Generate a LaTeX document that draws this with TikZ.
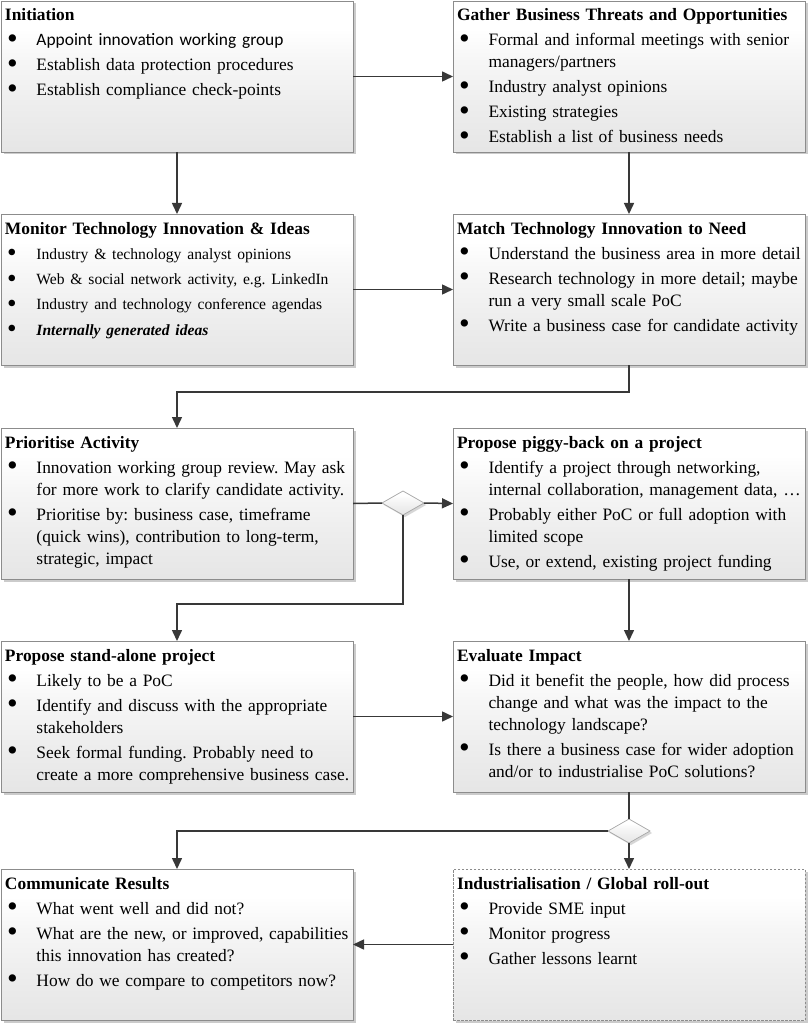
\documentclass[tikz,border=0pt]{standalone}
\usepackage{fontspec}
\usepackage{graphicx}
\setmainfont{Liberation Serif}
\newfontfamily\calib{Carlito}
\usetikzlibrary{arrows.meta,shapes.geometric,shadows,calc}
\newcommand\bitem[1]{\par\hangindent=31.5pt\hangafter=1\noindent\makebox[31.5pt][l]{\hspace{2pt}\raisebox{-0.17em}[0pt][0pt]{\scalebox{1.75}{\textbullet}}}#1\par}
\pgfdeclareverticalshading{boxshade}{100bp}{color(0bp)=(black!10); color(25bp)=(black!10); color(40bp)=(black!7); color(55bp)=(black!3.5); color(66bp)=(white); color(100bp)=(white)}
\tikzset{
  box/.style={draw=black!45, line width=0.8pt, shading=boxshade,
    minimum width=352pt, minimum height=151pt, inner sep=0pt, outer sep=0pt, anchor=north west,
    drop shadow={shadow xshift=2.5pt, shadow yshift=-2.5pt, fill=black!45, opacity=0.45}},
  dbox/.style={box, dash pattern=on 2.5pt off 1.5pt, line width=0.6pt},
  txt/.style={anchor=base west, inner sep=0pt, outer sep=0pt, text width=360pt, align=left,
    font=\fontsize{17.4}{22}\selectfont\frenchspacing},
  dec/.style={diamond, draw=black!35, line width=0.7pt, shading=boxshade,
    minimum width=42pt, minimum height=24pt, inner sep=0pt, outer sep=0pt,
    drop shadow={shadow xshift=2pt, shadow yshift=-2pt, fill=black!40, opacity=0.4}},
  conn/.style={draw=black!78, line width=1.5pt},
  arr/.style={conn, -{Triangle[length=11pt,width=10pt]}}
}
\begin{document}
\begin{tikzpicture}[x=1pt,y=-1pt]
\fill[white] (0,0) rectangle (809,1024);
\useasboundingbox (0,0) rectangle (809,1024);
% boxes
\node[box] (init) at (1,1) {};
\node[box] (gath) at (453,1) {};
\node[box] (moni) at (1,214) {};
\node[box] (matc) at (453,214) {};
\node[box] (prio) at (1,428) {};
\node[box] (pigg) at (453,428) {};
\node[box] (stan) at (1,641) {};
\node[box] (eval) at (453,641) {};
\node[box] (comm) at (1,869) {};
\node[dbox] (indu) at (453,869) {};
\node[dec] (d1) at (403,503) {};
\node[dec] (d2) at (629,831) {};
% texts
\node[txt] (initT) at ($(init.north west)+(4,20)$) {\parskip=3pt
\textbf{Initiation}
\bitem{{\calib Appoint innovation working group}}
\bitem{Establish data protection procedures}
\bitem{Establish compliance check-points}};
\node[txt] (gathT) at ($(gath.north west)+(4,20)$) {\parskip=3pt
\textbf{Gather Business Threats and Opportunities}
\bitem{Formal and informal meetings with senior\newline managers/partners}
\bitem{Industry analyst opinions}
\bitem{Existing strategies}
\bitem{Establish a list of business needs}};
\node[txt] (moniT) at ($(moni.north west)+(4,20)$) {\parskip=3pt
\textbf{Monitor Technology Innovation \& Ideas}\par
{\fontsize{15.6}{22.3}\selectfont
\bitem{Industry \& technology analyst opinions}
\bitem{Web \& social network activity, e.g. LinkedIn}
\bitem{Industry and technology conference agendas}
\bitem{\textbf{\textit{Internally generated ideas}}}}};
\node[txt] (matcT) at ($(matc.north west)+(4,20)$) {\parskip=3pt
\textbf{Match Technology Innovation to Need}
\bitem{Understand the business area in more detail}
\bitem{Research technology in more detail; maybe\newline run a very small scale PoC}
\bitem{Write a business case for candidate activity}};
\node[txt] (prioT) at ($(prio.north west)+(4,20)$) {\parskip=3pt
\textbf{Prioritise Activity}
\bitem{Innovation working group review. May ask\newline for more work to clarify candidate activity.}
\bitem{Prioritise by: business case, timeframe\newline (quick wins), contribution to long-term,\newline strategic, impact}};
\node[txt] (piggT) at ($(pigg.north west)+(4,20)$) {\parskip=3pt
\textbf{Propose piggy-back on a project}
\bitem{Identify a project through networking,\newline internal collaboration, management data, …}
\bitem{Probably either PoC or full adoption with\newline limited scope}
\bitem{Use, or extend, existing project funding}};
\node[txt] (stanT) at ($(stan.north west)+(4,20)$) {\parskip=3pt
\textbf{Propose stand-alone project}
\bitem{Likely to be a PoC}
\bitem{Identify and discuss with the appropriate\newline stakeholders}
\bitem{Seek formal funding. Probably need to\newline create a more comprehensive business case.}};
\node[txt] (evalT) at ($(eval.north west)+(4,20)$) {\parskip=3pt
\textbf{Evaluate Impact}
\bitem{Did it benefit the people, how did process\newline change and what was the impact to the\newline technology landscape?}
\bitem{Is there a business case for wider adoption\newline and/or to industrialise PoC solutions?}};
\node[txt] (commT) at ($(comm.north west)+(4,20)$) {\parskip=3pt
\textbf{Communicate Results}
\bitem{What went well and did not?}
\bitem{What are the new, or improved, capabilities\newline this innovation has created?}
\bitem{How do we compare to competitors now?}};
\node[txt] (induT) at ($(indu.north west)+(4,20)$) {\parskip=3pt
\textbf{Industrialisation / Global roll-out}
\bitem{Provide SME input}
\bitem{Monitor progress}
\bitem{Gather lessons learnt}};
% connectors
\draw[arr] (init.east) -- (gath.west);
\draw[arr] (init.south) -- (moni.north);
\draw[arr] (gath.south) -- (matc.north);
\draw[arr] (moni.east) -- (matc.west);
\draw[arr] (matc.south) -- ++(0,27) -| (prio.north);
\draw[conn] (prio.east) -- (d1.west);
\draw[arr] (d1.east) -- (pigg.west);
\draw[arr] (d1.south) -- ++(0,89) -| (stan.north);
\draw[arr] (pigg.south) -- (eval.north);
\draw[arr] (stan.east) -- (eval.west);
\draw[conn] (eval.south) -- (d2.north);
\draw[arr] (d2.west) -| (comm.north);
\draw[arr] (d2.south) -- (indu.north);
\draw[arr] (indu.west) -- (comm.east);
\end{tikzpicture}
\end{document}
